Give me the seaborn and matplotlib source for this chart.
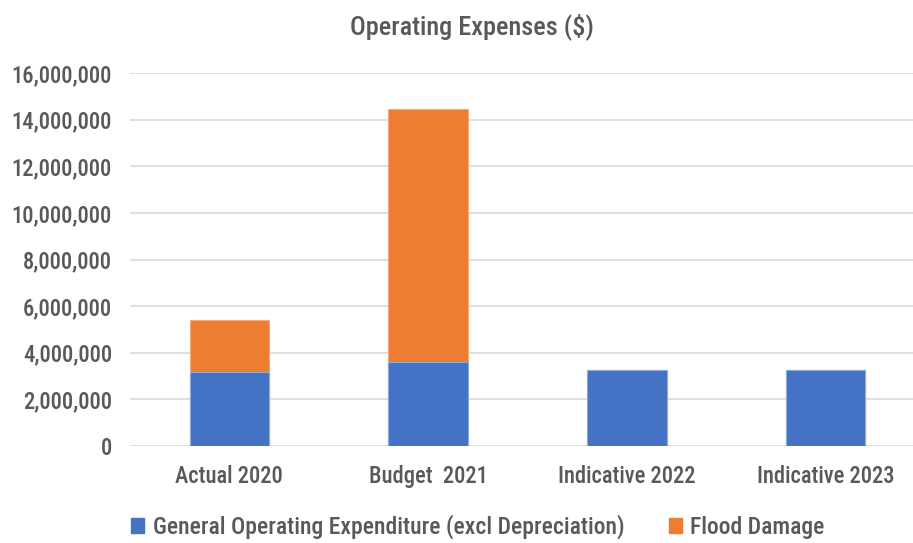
import matplotlib
matplotlib.use("Agg")
import matplotlib.pyplot as plt
import seaborn as sns
import pandas as pd
import os
from matplotlib import font_manager
from matplotlib.font_manager import FontProperties
from matplotlib.patches import Patch
from matplotlib.ticker import FuncFormatter

categories = ["Actual 2020", "Budget  2021", "Indicative 2022", "Indicative 2023"]
general_opex = [3160000, 3590000, 3270000, 3270000]
flood_damage = [2245000, 10850000, 0, 0]
series_names = ["General Operating Expenditure (excl Depreciation)", "Flood Damage"]
title = "Operating Expenses ($)"

sns.set_theme(style="white")

# pick a narrow / condensed sans font if one is installed
prefs = ["LiberationSansNarrow-Regular", "ArialNarrow", "RobotoCondensed-Regular",
         "NotoSans-CondensedMedium", "NotoSans-Condensed", "DejaVuSansCondensed.",
         "OpenSans_Condensed-Regular", "OpenSans-CondensedRegular"]
files = [f.fname for f in font_manager.fontManager.ttflist]
chosen = None
for p in prefs:
    for fn in files:
        if p.lower() in os.path.basename(fn).lower():
            chosen = fn
            break
    if chosen:
        break
if chosen is None:
    for fn in files:
        b = os.path.basename(fn).lower()
        if ("narrow" in b or "condensed" in b) and "bold" not in b and "italic" not in b \
                and "mono" not in b and "serif" not in b:
            chosen = fn
            break
if chosen and "Regular" in os.path.basename(chosen):
    med = os.path.join(os.path.dirname(chosen), os.path.basename(chosen).replace("Regular", "Medium"))
    if os.path.exists(med):
        chosen = med
if chosen:
    fp = FontProperties(fname=chosen)
else:
    fp = FontProperties(family=["Liberation Sans", "DejaVu Sans"])

grey = "#595959"
blue = "#4472C4"
orange = "#ED7D31"

df = pd.DataFrame({"cat": categories, "gen": general_opex, "flood": flood_damage})
df["total"] = df["gen"] + df["flood"]

fig = plt.figure(figsize=(9.13, 5.43), dpi=100)
ax = fig.add_axes([130 / 913, 97 / 543, 783 / 913, 373 / 543])
renderer = fig.canvas.get_renderer()


def size_for(text, target_w, base=18.0):
    t = fig.text(0, 0, text, fontproperties=fp, fontsize=base)
    w = t.get_window_extent(renderer).width
    t.remove()
    return base * target_w / w


fs_tick = size_for("16,000,000", 101)
fs_cat = size_for("Actual 2020", 108)
fs_title = size_for(title, 245)
fs_leg = size_for(series_names[0], 472)

sns.barplot(data=df, x="cat", y="total", color=orange, saturation=1, width=0.4,
            edgecolor="#F4A97A", linewidth=0.8, ax=ax, zorder=2)
sns.barplot(data=df, x="cat", y="gen", color=blue, saturation=1, width=0.4,
            edgecolor="#8EA9DB", linewidth=0.8, ax=ax, zorder=3)

ax.set_xlim(-0.5, 3.44)
ax.set_ylim(0, 16000000)
ax.set_yticks(range(0, 16000001, 2000000))
ax.yaxis.set_major_formatter(FuncFormatter(lambda v, p: f"{int(v):,}"))
ax.grid(axis="y", color="#D9D9D9", linewidth=1.2, zorder=0)
ax.set_axisbelow(True)
for s in ax.spines.values():
    s.set_visible(False)
ax.set_xlabel("")
ax.set_ylabel("")
ax.tick_params(axis="both", length=0, colors=grey)
ax.tick_params(axis="y", pad=13)
ax.tick_params(axis="x", pad=14)
for lab in ax.get_yticklabels():
    lab.set_fontproperties(fp)
    lab.set_fontsize(fs_tick)
for lab in ax.get_xticklabels():
    lab.set_fontproperties(fp)
    lab.set_fontsize(fs_cat)

fig.text(472 / 913, 1 - 27 / 543, title, ha="center", va="center",
         fontproperties=fp, fontsize=fs_title, color=grey)

lp = fp.copy()
lp.set_size(fs_leg)
handles = [Patch(facecolor=blue, edgecolor=blue), Patch(facecolor=orange, edgecolor=orange)]
leg = fig.legend(handles, series_names, loc="center", bbox_to_anchor=(478 / 913, 1 - 527 / 543),
                 ncol=2, frameon=False, prop=lp, handlelength=0.55, handleheight=0.55,
                 handletextpad=0.35, columnspacing=1.9, labelcolor=grey)

fig.savefig("out.png", dpi=100)
